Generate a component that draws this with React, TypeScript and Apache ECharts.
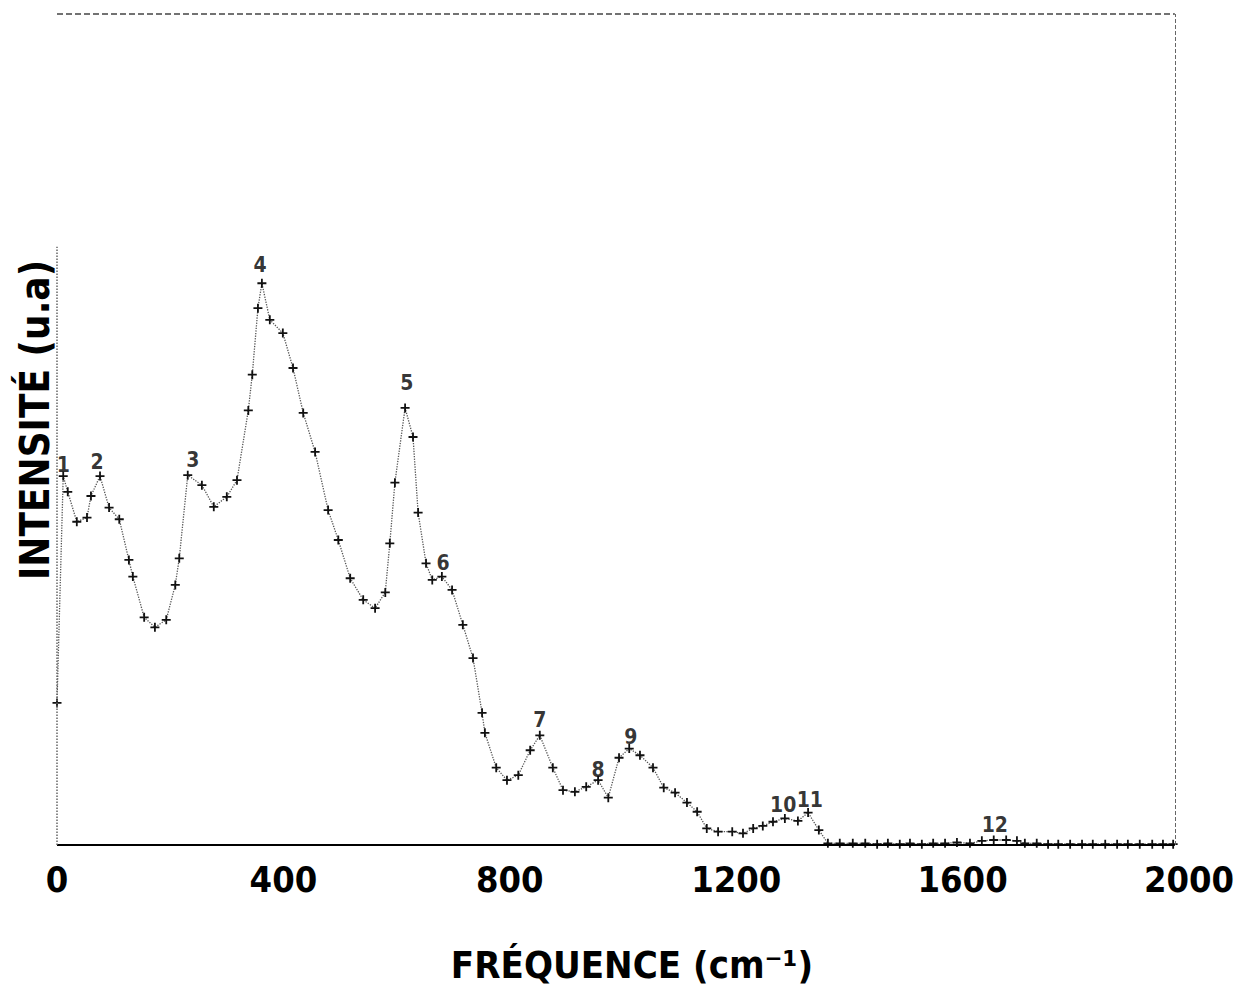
import React, { useEffect, useRef } from "react";
import * as echarts from "echarts";

// Main spectrum (cm-1, arbitrary intensity units)
const curveFreq = [0, 11, 19, 35, 53, 60, 76, 92, 110, 127, 134, 154, 173, 193, 209, 216, 231, 256, 277, 300, 318, 338, 345, 355, 362, 376, 399, 417, 435, 456, 479, 497, 518, 541, 562, 580, 588, 597, 615, 629, 638, 652, 663, 680, 698, 717, 735, 751, 756, 776, 795, 815, 836, 853, 876, 894, 915, 935, 956, 974, 993, 1011, 1030, 1053, 1072, 1092, 1113, 1131, 1148, 1168, 1193, 1212, 1230, 1247, 1265, 1286, 1309, 1327, 1346, 1362];
const curveIntensity = [17.1, 44.4, 42.5, 38.9, 39.4, 42.0, 44.4, 40.6, 39.2, 34.3, 32.3, 27.4, 26.2, 27.1, 31.3, 34.5, 44.5, 43.3, 40.7, 41.9, 43.9, 52.3, 56.6, 64.6, 67.6, 63.2, 61.6, 57.4, 52.0, 47.3, 40.3, 36.7, 32.1, 29.5, 28.5, 30.4, 36.3, 43.6, 52.6, 49.1, 40.0, 33.9, 31.9, 32.3, 30.7, 26.5, 22.5, 15.9, 13.5, 9.3, 7.8, 8.4, 11.4, 13.2, 9.3, 6.6, 6.4, 7.0, 7.8, 5.7, 10.5, 11.6, 10.8, 9.3, 6.9, 6.3, 5.1, 4.0, 2.0, 1.6, 1.6, 1.4, 2.0, 2.3, 2.8, 3.2, 2.9, 3.9, 1.8, 0.2];

// Baseline tail
const tailFreq = [1383, 1406, 1428, 1449, 1468, 1489, 1507, 1528, 1548, 1569, 1590, 1613, 1634, 1655, 1677, 1696, 1710, 1731, 1751, 1769, 1790, 1811, 1830, 1852, 1873, 1892, 1913, 1935, 1954, 1972];
const tailIntensity = [0.2, 0.2, 0.2, 0.1, 0.2, 0.1, 0.2, 0.1, 0.2, 0.2, 0.3, 0.2, 0.5, 0.6, 0.6, 0.5, 0.2, 0.2, 0.1, 0.1, 0.1, 0.1, 0.1, 0.1, 0.1, 0.1, 0.1, 0.1, 0.1, 0.1];

// Peak numbering
const peakNames = ["1", "2", "3", "4", "5", "6", "7", "8", "9", "10", "11", "12"];
const peakLabelFreq = [11, 71, 240, 359, 618, 682, 853, 956, 1014, 1283, 1330, 1657];
const peakLabelIntensity = [45.7, 46.1, 46.3, 69.8, 55.6, 33.9, 15.0, 9.0, 13.0, 4.8, 5.4, 2.4];

const xTicks = [0, 400, 800, 1200, 1600, 2000];
const xTitle = "FRÉQUENCE (cm⁻¹)";
const yTitle = "INTENSITÉ (u.a)";
const frameRight = 1975;
const yMax = 100;

const FONT = "'DejaVu Sans Condensed', 'DejaVu Sans', sans-serif";
const PLUS = "path://M4,0H6V4H10V6H6V10H4V6H0V4H4Z";

export default function App() {
  const ref = useRef<HTMLDivElement>(null);
  useEffect(() => {
    document.body.style.margin = "0";
    const chart = echarts.init(ref.current!, null, { renderer: "svg" });
    const spectrum = [
      ...curveFreq.map((f, i) => [f, curveIntensity[i]]),
      ...tailFreq.map((f, i) => [f, tailIntensity[i]]),
    ];
    const labels = peakNames.map((n, i) => ({ name: n, value: [peakLabelFreq[i], peakLabelIntensity[i]] }));
    chart.setOption({
      animation: false,
      backgroundColor: "#ffffff",
      grid: { left: 57, right: 55, top: 14, bottom: 141 },
      xAxis: {
        type: "value",
        min: 0,
        max: 2000,
        interval: 400,
        axisLine: { show: false },
        axisTick: { show: false },
        splitLine: { show: false },
        axisLabel: {
          margin: 16,
          fontFamily: FONT,
          fontWeight: "bold",
          fontSize: 36,
          color: "#000",
          showMaxLabel: true,
          formatter: (v: number) => (xTicks.includes(v) ? String(v) : ""),
        },
      },
      yAxis: {
        type: "value",
        min: 0,
        max: yMax,
        axisLine: { show: false },
        axisTick: { show: false },
        axisLabel: { show: false },
        splitLine: { show: false },
      },
      graphic: [
        {
          type: "text",
          x: 632,
          y: 965,
          style: { text: xTitle, fontFamily: FONT, fontWeight: "bold", fontSize: 38, fill: "#000", textAlign: "center", textVerticalAlign: "middle" },
        },
        {
          type: "text",
          x: 35,
          y: 420,
          rotation: Math.PI / 2,
          style: { text: yTitle, fontFamily: FONT, fontWeight: "bold", fontSize: 40, fill: "#000", textAlign: "center", textVerticalAlign: "middle" },
        },
      ],
      series: [
        {
          type: "line",
          data: spectrum,
          symbol: PLUS,
          symbolSize: 9,
          showAllSymbol: true,
          itemStyle: { color: "#111" },
          lineStyle: { color: "#555", width: 1.3, type: "dotted" },
          clip: false,
          markLine: {
            silent: true,
            symbol: "none",
            label: { show: false },
            data: [
              [{ coord: [0, 0], lineStyle: { type: "solid", width: 2, color: "#000" } }, { coord: [frameRight, 0] }],
              [{ coord: [frameRight, 0], lineStyle: { type: "dashed", width: 1, color: "#666" } }, { coord: [frameRight, yMax] }],
              [{ coord: [0, yMax], lineStyle: { type: "dashed", width: 1.5, color: "#444" } }, { coord: [frameRight, yMax] }],
              [{ coord: [0, 0], lineStyle: { type: "dotted", width: 1.5, color: "#666" } }, { coord: [0, 72] }],
            ],
          },
        },
        {
          type: "scatter",
          data: labels,
          symbolSize: 0,
          itemStyle: { color: "#000" },
          label: {
            show: true,
            position: "inside",
            formatter: (p: any) => p.name,
            fontFamily: FONT,
            fontWeight: "bold",
            fontSize: 21,
            color: "#000",
            textBorderWidth: 0,
          },
        },
      ],
    });
    return () => chart.dispose();
  }, []);
  return <div ref={ref} style={{ width: 1244, height: 986 }} />;
}
